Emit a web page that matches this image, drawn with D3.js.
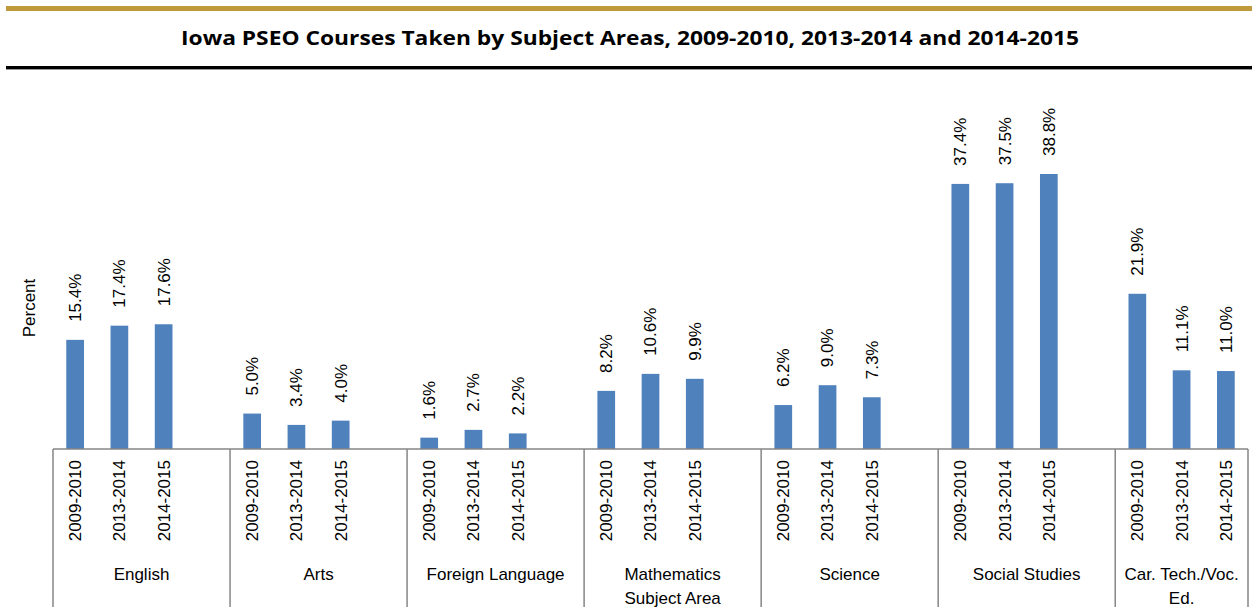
<!DOCTYPE html>
<html>
<head>
<meta charset="utf-8">
<script src="https://cdn.jsdelivr.net/npm/d3@7"></script>
<style>
  body { margin: 0; background: #fff; }
  text { font-family: "Liberation Sans", Arial, sans-serif; }
</style>
</head>
<body>
<div id="chart"></div>
<script>
// data
var subjects = ["English", "Arts", "Foreign Language", "Mathematics", "Science", "Social Studies", "Car. Tech./Voc. Ed."];
var years = ["2009-2010", "2013-2014", "2014-2015"];
var share0910 = [15.4, 5.0, 1.6, 8.2, 6.2, 37.4, 21.9];
var share1314 = [17.4, 3.4, 2.7, 10.6, 9.0, 37.5, 11.1];
var share1415 = [17.6, 4.0, 2.2, 9.9, 7.3, 38.8, 11.0];
var subjectLines = [["English"], ["Arts"], ["Foreign Language"], ["Mathematics", "Subject Area"], ["Science"], ["Social Studies"], ["Car. Tech./Voc.", "Ed."]];

var width = 1252, height = 610;
var svg = d3.select("#chart").append("svg")
    .attr("width", width)
    .attr("height", height);

// header decoration
svg.append("rect").attr("x", 6).attr("y", 6).attr("width", width - 6).attr("height", 5).attr("fill", "#BF9A3C");
svg.append("rect").attr("x", 6).attr("y", 66).attr("width", width - 6).attr("height", 3).attr("fill", "#000");
svg.append("rect").attr("x", 6).attr("y", 69).attr("width", width - 6).attr("height", 1).attr("fill", "#999");

svg.append("text")
    .attr("x", 630).attr("y", 45)
    .attr("text-anchor", "middle")
    .attr("textLength", 898)
    .attr("lengthAdjust", "spacingAndGlyphs")
    .style("font-family", "'Open Sans', 'Liberation Sans', sans-serif")
    .style("font-weight", "bold")
    .style("font-size", "20px")
    .text("Iowa PSEO Courses Taken by Subject Areas, 2009-2010, 2013-2014 and 2014-2015");

// rows: one per bar, with a blank slot after each group (except last)
var rows = [];
var slots = [];
subjects.forEach(function (s, gi) {
    var vals = [share0910[gi], share1314[gi], share1415[gi]];
    years.forEach(function (y, yi) {
        var id = s + "|" + y;
        slots.push(id);
        rows.push({ id: id, group: gi, year: y, value: vals[yi] });
    });
    if (gi < subjects.length - 1) slots.push(s + "|blank");
});

var x0 = 53, x1 = 1248, baseY = 449;
var xScale = d3.scaleBand().domain(slots).range([x0, x1]).padding(0);
var yScale = d3.scaleLinear().domain([0, 38.8]).range([baseY, 174]);

var barW = xScale.bandwidth() * 0.4;
var cx = function (d) { return xScale(d.id) + xScale.bandwidth() / 2; };

// bars
svg.selectAll(".bar")
    .data(rows)
    .enter()
    .append("rect")
    .attr("class", "bar")
    .attr("x", function (d) { return cx(d) - barW / 2; })
    .attr("y", function (d) { return yScale(d.value); })
    .attr("width", barW)
    .attr("height", function (d) { return baseY - yScale(d.value); })
    .attr("fill", "#4F81BD");

// value labels
svg.selectAll(".val")
    .data(rows)
    .enter()
    .append("text")
    .attr("class", "val")
    .attr("transform", function (d) { return "translate(" + cx(d) + "," + (yScale(d.value) - 18) + ") rotate(-90)"; })
    .attr("dy", "0.35em")
    .attr("text-anchor", "start")
    .style("font-size", "17px")
    .attr("fill", "#000")
    .text(function (d) { return d.value.toFixed(1) + "%"; });

// axis line
var axisColor = "#868686";
svg.append("line")
    .attr("x1", x0).attr("x2", x1)
    .attr("y1", baseY).attr("y2", baseY)
    .attr("stroke", axisColor).attr("stroke-width", 1.5);

// group dividers
var bounds = subjects.map(function (s) { return xScale(s + "|" + years[0]); });
bounds.push(x1);
svg.selectAll(".divider")
    .data(bounds)
    .enter()
    .append("line")
    .attr("class", "divider")
    .attr("x1", function (d) { return d; }).attr("x2", function (d) { return d; })
    .attr("y1", baseY).attr("y2", 607)
    .attr("stroke", axisColor).attr("stroke-width", 1.5);

// year tick labels
svg.selectAll(".tick-lbl")
    .data(rows)
    .enter()
    .append("text")
    .attr("class", "tick-lbl")
    .attr("transform", function (d) { return "translate(" + cx(d) + ",460) rotate(-90)"; })
    .attr("dy", "0.35em")
    .attr("text-anchor", "end")
    .style("font-size", "17px")
    .text(function (d) { return d.year; });

// group labels
var groupLbl = svg.selectAll(".grp")
    .data(subjectLines)
    .enter()
    .append("text")
    .attr("class", "grp")
    .attr("text-anchor", "middle")
    .style("font-size", "17px");
groupLbl.selectAll("tspan")
    .data(function (lines, gi) {
        var left = bounds[gi], right = bounds[gi + 1];
        return lines.map(function (l, li) { return { text: l, x: (left + right) / 2, y: 580 + li * 24 }; });
    })
    .enter()
    .append("tspan")
    .attr("x", function (d) { return d.x; })
    .attr("y", function (d) { return d.y; })
    .text(function (d) { return d.text; });

// y axis title
svg.append("text")
    .attr("transform", "translate(35,308) rotate(-90)")
    .attr("text-anchor", "middle")
    .style("font-size", "17px")
    .text("Percent");
</script>
</body>
</html>
